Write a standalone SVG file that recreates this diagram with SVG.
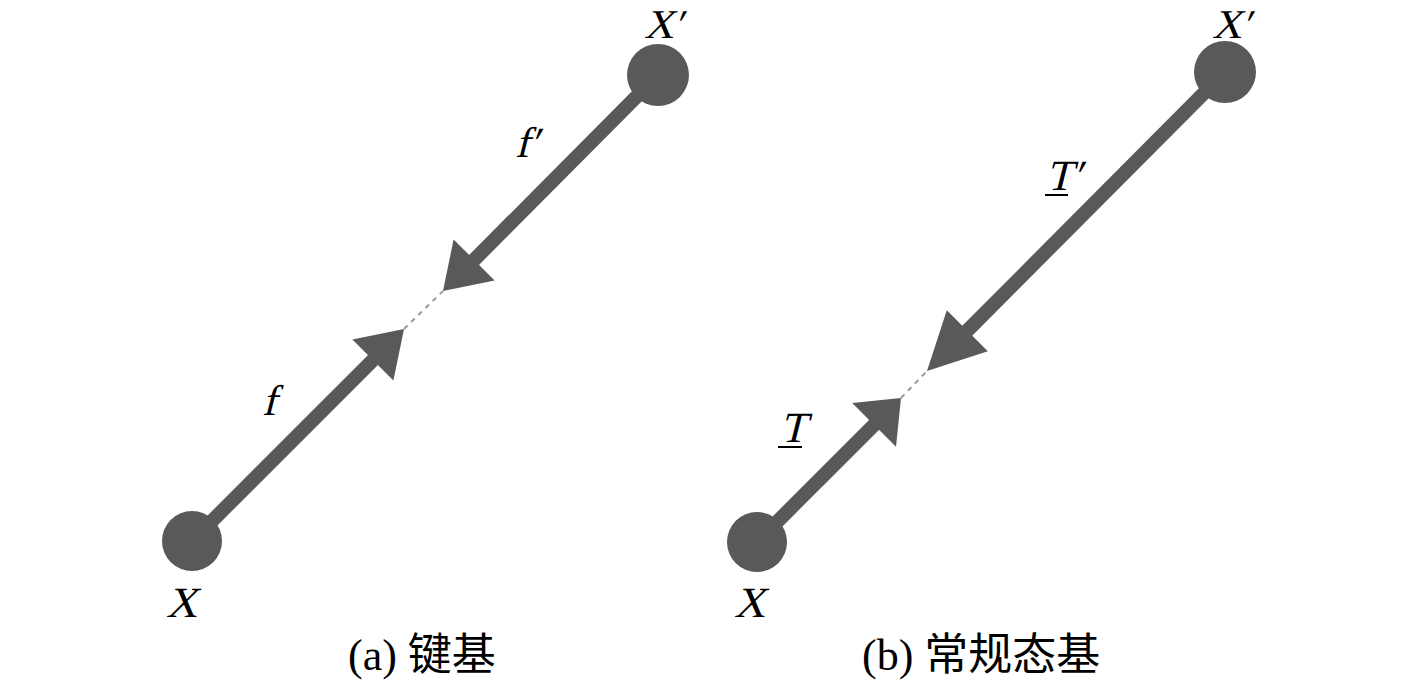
<svg xmlns="http://www.w3.org/2000/svg" width="1417" height="682" viewBox="0 0 1417 682">
<style>
.node{fill:#595959}
.edge{stroke:#595959;stroke-width:14;fill:none}
.head{fill:#595959}
.gap{stroke:#9a9a9a;stroke-width:2;stroke-dasharray:5 5;fill:none}
.lbl{font-family:"Liberation Serif","Times New Roman",serif;font-style:normal;font-size:43px;fill:#000}
.cap{font-family:"Liberation Serif","Noto Sans CJK SC",serif;font-size:44px;fill:#000}
.ul{stroke:#000;stroke-width:2}
</style>
<rect width="1417" height="682" fill="#fff"/>
<g id="connectors">
  <line class="edge" x1="192" y1="541" x2="374" y2="359"/>
  <polygon class="head" points="404,329 393.4,380.6 352.4,339.6"/>
  <line class="edge" x1="658" y1="75" x2="473" y2="261"/>
  <polygon class="head" points="443,291 494.6,280.4 453.6,239.4"/>
  <line class="gap" x1="404" y1="329" x2="443" y2="291"/>
  <line class="edge" x1="757" y1="542" x2="875" y2="424"/>
  <polygon class="head" points="901,398 896,446.8 852.2,403"/>
  <line class="edge" x1="1225" y1="72" x2="966" y2="332"/>
  <polygon class="head" points="927,371 987.8,351.2 946.8,310.2"/>
  <line class="gap" x1="901" y1="398" x2="927" y2="371"/>
</g>
<g id="nodeX_a"><circle class="node" cx="192" cy="541" r="30"/><g transform="translate(166,617) skewX(-14)"><text class="lbl" x="0" y="0">X</text></g></g>
<g id="nodeXp_a"><circle class="node" cx="658" cy="75" r="31"/><g transform="translate(644,38) skewX(-14)"><text class="lbl" style="font-size:41px" x="0" y="0">X′</text></g></g>
<g id="label_f"><g transform="translate(262,415) skewX(-14)"><text class="lbl" x="0" y="0">f</text></g></g>
<g id="label_fp"><g transform="translate(515,157) skewX(-14)"><text class="lbl" x="0" y="0">f′</text></g></g>
<g id="nodeX_b"><circle class="node" cx="757" cy="542" r="30"/><g transform="translate(734,617) skewX(-14)"><text class="lbl" x="0" y="0">X</text></g></g>
<g id="nodeXp_b"><circle class="node" cx="1225" cy="72" r="31"/><g transform="translate(1212,38) skewX(-14)"><text class="lbl" style="font-size:41px" x="0" y="0">X′</text></g></g>
<g id="label_T"><g transform="translate(780,442) skewX(-14)"><text class="lbl" x="0" y="0">T</text></g><line class="ul" x1="778" y1="447" x2="802" y2="447"/></g>
<g id="label_Tp"><g transform="translate(1046,190) skewX(-14)"><text class="lbl" x="0" y="0">T′</text></g><line class="ul" x1="1045" y1="195" x2="1068" y2="195"/></g>
<g id="caption_a"><text class="cap" x="348" y="670">(a) 键基</text></g>
<g id="caption_b"><text class="cap" x="862" y="670">(b) 常规态基</text></g>
</svg>
